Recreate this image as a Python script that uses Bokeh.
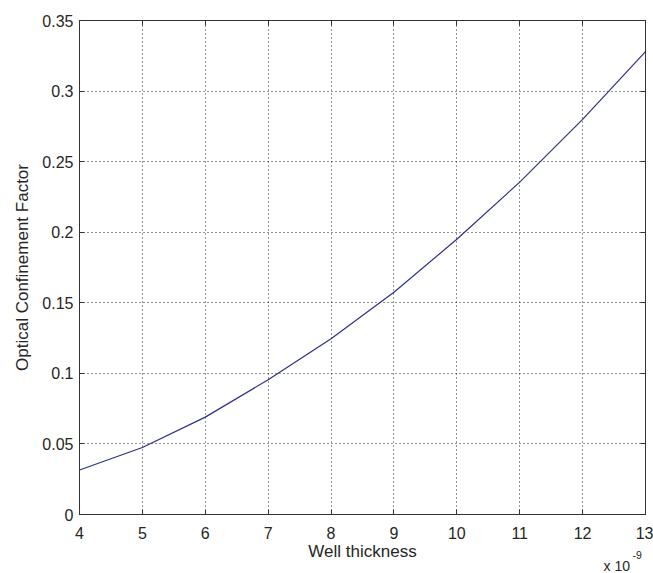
from bokeh.plotting import figure
from bokeh.models import (LinearAxis, FixedTicker, CustomJSTickFormatter, Range1d, Label)
from bokeh.core.enums import CoordinateUnits
from bokeh.embed import file_html
from bokeh.resources import INLINE

# Data (well thickness in units of 1e-9 m)
well_thickness = [4, 5, 6, 7, 8, 9, 10, 11, 12, 13]
confinement = [0.0315, 0.0475, 0.0690, 0.0955, 0.1245, 0.1575, 0.1950, 0.2355, 0.2800, 0.3280]

x_ticks = [4, 5, 6, 7, 8, 9, 10, 11, 12, 13]
y_ticks = [0, 0.05, 0.1, 0.15, 0.2, 0.25, 0.3, 0.35]

FONT = "Liberation Sans"
TXT = "#262626"
W, H = 653, 573

p = figure(width=W, height=H, output_backend="svg", toolbar_location=None,
           x_range=Range1d(4, 13), y_range=Range1d(0, 0.35),
           min_border_left=79, min_border_top=20, min_border_right=8, min_border_bottom=59,
           x_axis_label="Well thickness", y_axis_label="Optical Confinement Factor")
p.background_fill_color = "white"
p.border_fill_color = "white"
p.outline_line_color = "#333333"

fmt = CustomJSTickFormatter(code="var s = tick.toFixed(2); s = s.replace(/0+$/, ''); s = s.replace(/\\.$/, ''); return s;")

p.xaxis.ticker = FixedTicker(ticks=x_ticks)
p.yaxis.ticker = FixedTicker(ticks=y_ticks)
p.yaxis.formatter = fmt

for ax in (p.xaxis[0], p.yaxis[0]):
    ax.major_tick_in = 5
    ax.major_tick_out = 0
    ax.minor_tick_line_color = None
    ax.axis_line_color = "#333333"
    ax.major_tick_line_color = "#333333"
    ax.major_label_text_font = FONT
    ax.major_label_text_font_size = "16px"
    ax.major_label_text_color = TXT
    ax.axis_label_text_font = FONT
    ax.axis_label_text_font_size = "17px"
    ax.axis_label_text_font_style = "normal"
    ax.axis_label_text_color = TXT

p.yaxis.major_label_standoff = 6
p.yaxis.axis_label_standoff = 7
p.xaxis.major_label_standoff = 12
p.xaxis.axis_label_standoff = 0

# Mirror ticks on top and right (box on)
def mirror_axis(ticks):
    return LinearAxis(ticker=FixedTicker(ticks=ticks),
                      major_label_overrides={t: "" for t in ticks},
                      major_label_text_font_size="0px", major_label_text_color=None,
                      major_label_standoff=0, major_tick_in=5, major_tick_out=0,
                      minor_tick_line_color=None, axis_line_color="#333333",
                      major_tick_line_color="#333333")

p.add_layout(mirror_axis(x_ticks), "above")
p.add_layout(mirror_axis(y_ticks), "right")

p.xgrid.ticker = FixedTicker(ticks=x_ticks)
p.ygrid.ticker = FixedTicker(ticks=y_ticks)
for g in (p.xgrid[0], p.ygrid[0]):
    g.grid_line_color = "black"
    g.grid_line_dash = "1 3"
    g.grid_line_width = 1
    g.grid_line_alpha = 0.85

p.line(well_thickness, confinement, line_color="#2e2e8c", line_width=1.2)

# Exponent label "x 10^-9" (canvas units, top-left origin; placed in side panels so it is not clipped)
units = "canvas" if "canvas" in CoordinateUnits else "screen"
exp_base = Label(x=603, y=565, x_units=units, y_units=units, text="x 10",
                 text_font=FONT, text_font_size="14px", text_color=TXT,
                 text_align="left", text_baseline="alphabetic")
exp_sup = Label(x=632, y=554, x_units=units, y_units=units, text="-9",
                text_font=FONT, text_font_size="10.5px", text_color=TXT,
                text_align="left", text_baseline="alphabetic")
p.add_layout(exp_base, "above")
p.add_layout(exp_sup, "left")

open("out.html", "w").write(file_html(p, INLINE))
